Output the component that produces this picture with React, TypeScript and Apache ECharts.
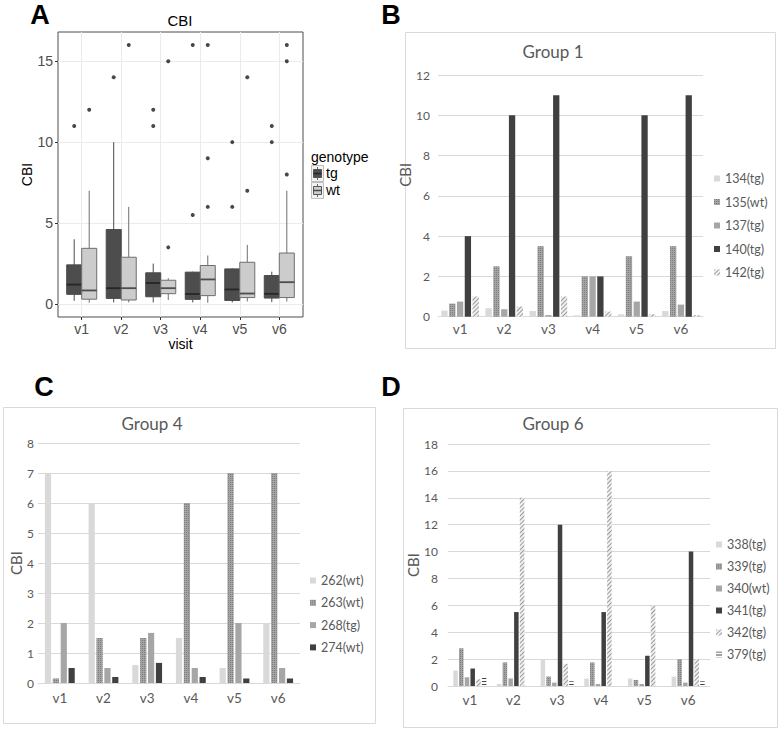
import React, { useEffect, useRef } from "react";
import * as echarts from "echarts";

// ---------- shared categories ----------
const visits = ["v1", "v2", "v3", "v4", "v5", "v6"];

// ---------- Panel A: boxplot statistics (per visit) ----------
const tgLow = [0.2, 0.1, 0.1, 0.1, 0.1, 0.12];
const tgQ1 = [0.6, 0.35, 0.45, 0.29, 0.22, 0.37];
const tgMedian = [1.2, 0.98, 1.3, 0.62, 0.9, 0.63];
const tgQ3 = [2.42, 4.6, 1.93, 1.97, 2.17, 1.76];
const tgHigh = [4.0, 10.0, 2.5, 2.0, 2.2, 2.0];

const wtLow = [0.08, 0.1, 0.25, 0.08, 0.16, 0.16];
const wtQ1 = [0.3, 0.25, 0.64, 0.52, 0.4, 0.4];
const wtMedian = [0.84, 0.98, 0.98, 1.52, 0.65, 1.35];
const wtQ3 = [3.44, 2.89, 1.47, 2.38, 2.58, 3.15];
const wtHigh = [7.0, 6.0, 1.6, 3.0, 3.65, 7.0];

// [visit number (1-based), value]
const tgOutliers = [[1, 11], [2, 14], [3, 11], [3, 12], [4, 5.5], [4, 16], [5, 6], [5, 10], [6, 10], [6, 11]];
const wtOutliers = [[1, 12], [2, 16], [3, 3.5], [3, 15], [4, 6], [4, 9], [4, 16], [5, 7], [5, 14], [6, 8], [6, 15], [6, 16]];

const boxTicks = [0, 5, 10, 15];
const visitTicks = [1, 2, 3, 4, 5, 6];

// ---------- Panel B: Group 1 ----------
const group1Names = ["134(tg)", "135(wt)", "137(tg)", "140(tg)", "142(tg)"];
const g1_134 = [0.3, 0.42, 0.28, 0.07, 0.12, 0.28];
const g1_135 = [0.65, 2.5, 3.5, 2.0, 3.0, 3.5];
const g1_137 = [0.75, 0.37, 0.08, 2.0, 0.75, 0.6];
const g1_140 = [4, 10, 11, 2, 10, 11];
const g1_142 = [1.0, 0.5, 1.0, 0.25, 0.12, 0.08];

// ---------- Panel C: Group 4 ----------
const group4Names = ["262(wt)", "263(wt)", "268(tg)", "274(wt)"];
const g4_262 = [7, 6, 0.6, 1.5, 0.5, 2];
const g4_263 = [0.15, 1.5, 1.5, 6, 7, 7];
const g4_268 = [2, 0.5, 1.67, 0.5, 2, 0.5];
const g4_274 = [0.5, 0.2, 0.67, 0.2, 0.15, 0.15];

// ---------- Panel D: Group 6 ----------
const group6Names = ["338(tg)", "339(tg)", "340(wt)", "341(tg)", "342(tg)", "379(tg)"];
const g6_338 = [1.15, 0.15, 2.0, 0.55, 0.55, 0.7];
const g6_339 = [2.8, 1.75, 0.7, 1.75, 0.45, 2.0];
const g6_340 = [0.65, 0.55, 0.25, 0.15, 0.15, 0.25];
const g6_341 = [1.3, 5.5, 12, 5.5, 2.25, 10];
const g6_342 = [0.5, 14, 1.65, 16, 6, 2.0];
const g6_379 = [0.65, 0, 0.35, 0, 0, 0.35];

// ---------- styles ----------
const GG = '"Liberation Sans", Arial, sans-serif';
const XL = 'Lato, "Open Sans", sans-serif';
const XL_TEXT = "#595959";
const XL_GRID = "#d9d9d9";

const DODGE = 0.19; // half box width in x units (ggplot dodge)

const STYLE_LIGHT = { color: "#d9d9d9" };
const STYLE_DOTS = {
  color: "#a3a3a3",
  decal: { symbol: "rect", symbolSize: 1, color: "rgba(80,80,80,0.45)", dashArrayX: [1, 1], dashArrayY: [1, 1], rotation: 0 },
};
const STYLE_MID = { color: "#a6a6a6" };
const STYLE_DARK = { color: "#404040" };
const STYLE_DIAG = {
  color: "#f0f0f0",
  decal: { symbol: "rect", symbolSize: 1, color: "#9a9a9a", dashArrayX: [1, 0], dashArrayY: [1, 2], rotation: -Math.PI / 4 },
};
const STYLE_HLINES = {
  color: "#ffffff",
  decal: { symbol: "rect", symbolSize: 1, color: "#444444", dashArrayX: [1, 0], dashArrayY: [1, 2], rotation: 0 },
};

function bar(name: string, data: number[], idx: number, itemStyle: any, barWidth: number, barGap: string) {
  return {
    type: "bar",
    name,
    data,
    xAxisIndex: idx,
    yAxisIndex: idx,
    barWidth,
    barGap,
    itemStyle,
    emphasis: { disabled: true },
  };
}

function boxRenderer(offset: number, fill: string, stroke: string, medColor: string) {
  return (params: any, api: any) => {
    const x = api.value(0) + offset;
    const pLo = api.coord([x, api.value(1)]);
    const pQ1 = api.coord([x, api.value(2)]);
    const pMed = api.coord([x, api.value(3)]);
    const pQ3 = api.coord([x, api.value(4)]);
    const pHi = api.coord([x, api.value(5)]);
    const left = api.coord([x - DODGE, 0])[0];
    const right = api.coord([x + DODGE, 0])[0];
    return {
      type: "group",
      children: [
        { type: "line", shape: { x1: pLo[0], y1: pLo[1], x2: pQ1[0], y2: pQ1[1] }, style: { stroke, lineWidth: 1 } },
        { type: "line", shape: { x1: pQ3[0], y1: pQ3[1], x2: pHi[0], y2: pHi[1] }, style: { stroke, lineWidth: 1 } },
        {
          type: "rect",
          shape: { x: left, y: pQ3[1], width: right - left, height: pQ1[1] - pQ3[1] },
          style: { fill, stroke, lineWidth: 1 },
        },
        { type: "line", shape: { x1: left, y1: pMed[1], x2: right, y2: pMed[1] }, style: { stroke: medColor, lineWidth: 1.8 } },
      ],
    };
  };
}

function barXAxis(idx: number, margin: number) {
  return {
    type: "category",
    gridIndex: idx,
    data: visits,
    axisLine: { show: true, lineStyle: { color: XL_GRID } },
    axisTick: { show: false },
    axisLabel: { fontSize: 13.5, color: XL_TEXT, fontFamily: XL, margin },
    splitLine: { show: false },
  };
}

function barYAxis(idx: number, max: number, interval: number, margin: number, nameGap: number, namePadding: number[]) {
  return {
    type: "value",
    gridIndex: idx,
    min: 0,
    max,
    interval,
    axisLine: { show: false },
    axisTick: { show: false },
    axisLabel: { fontSize: 12, color: XL_TEXT, fontFamily: XL, margin },
    splitLine: { show: true, lineStyle: { color: XL_GRID, width: 1 } },
    name: "CBI",
    nameLocation: "middle",
    nameGap,
    nameTextStyle: { fontSize: 15, color: XL_TEXT, fontFamily: XL, padding: namePadding },
  };
}

function barLegend(names: string[], left: number, top: number, itemGap: number) {
  return {
    data: names,
    orient: "vertical",
    left,
    top,
    itemWidth: 6,
    itemHeight: 6,
    itemGap,
    icon: "rect",
    selectedMode: false,
    padding: 0,
    textStyle: { fontSize: 12.5, color: XL_TEXT, fontFamily: XL },
  };
}

function letter(t: string, x: number, y: number) {
  return {
    type: "text",
    x,
    y,
    style: {
      text: t,
      fontSize: 27,
      fontWeight: "bold",
      fontFamily: GG,
      fill: "#000",
      align: "center",
      verticalAlign: "middle",
      textAlign: "center",
      textVerticalAlign: "middle",
    },
  };
}

function frame(x: number, y: number, w: number, h: number) {
  return {
    type: "rect",
    shape: { x: x + 0.5, y: y + 0.5, width: w, height: h },
    style: { fill: "none", stroke: "#d9d9d9", lineWidth: 1 },
    silent: true,
  };
}

function legendKey(x: number, y: number, fill: string, med: string) {
  return {
    type: "group",
    children: [
      { type: "rect", shape: { x: x + 0.5, y: y + 0.5, width: 12, height: 16 }, style: { fill: "#f2f2f2", stroke: "#bdbdbd", lineWidth: 1 } },
      { type: "line", shape: { x1: x + 6.5, y1: y + 2, x2: x + 6.5, y2: y + 15 }, style: { stroke: "#666", lineWidth: 1 } },
      { type: "rect", shape: { x: x + 2.5, y: y + 4.5, width: 8, height: 8 }, style: { fill, stroke: "#555", lineWidth: 1 } },
      { type: "line", shape: { x1: x + 2.5, y1: y + 8.5, x2: x + 10.5, y2: y + 8.5 }, style: { stroke: med, lineWidth: 1.5 } },
    ],
  };
}

function ggText(t: string, x: number, y: number, size: number) {
  return {
    type: "text",
    x,
    y,
    style: {
      text: t,
      fontSize: size,
      fontFamily: GG,
      fill: "#000",
      align: "left",
      verticalAlign: "middle",
      textAlign: "left",
      textVerticalAlign: "middle",
    },
  };
}

function buildOption() {
  const tgBoxData = visits.map((_, i) => [i + 1, tgLow[i], tgQ1[i], tgMedian[i], tgQ3[i], tgHigh[i]]);
  const wtBoxData = visits.map((_, i) => [i + 1, wtLow[i], wtQ1[i], wtMedian[i], wtQ3[i], wtHigh[i]]);

  const titleBase = (text: string, left: number, top: number, size: number, color: string, font: string) => ({
    text,
    left,
    top,
    textAlign: "center",
    padding: 0,
    textStyle: { fontSize: size, fontWeight: "normal", color, fontFamily: font },
  });

  return {
    animation: false,
    backgroundColor: "#ffffff",
    title: [
      titleBase("CBI", 180, 13, 15, "#000", GG),
      titleBase("Group 1", 553, 43, 17, XL_TEXT, XL),
      titleBase("Group 4", 152, 415, 17, XL_TEXT, XL),
      titleBase("Group 6", 553, 415, 17, XL_TEXT, XL),
    ],
    legend: [
      barLegend(group1Names, 714, 172, 10.5),
      barLegend(group4Names, 310, 574, 9.3),
      barLegend(group6Names, 716, 538, 9),
    ],
    grid: [
      { left: 58, top: 32, width: 245, height: 285, show: true, borderColor: "#4d4d4d", borderWidth: 1, backgroundColor: "#fff", outerBoundsMode: "none" },
      { left: 438, top: 75, width: 265, height: 241.7, outerBoundsMode: "none" },
      { left: 38, top: 443, width: 262, height: 240, outerBoundsMode: "none" },
      { left: 448, top: 444, width: 262, height: 242, outerBoundsMode: "none" },
    ],
    xAxis: [
      {
        type: "value",
        gridIndex: 0,
        min: 0.4,
        max: 6.6,
        axisLine: { show: false, onZero: false },
        axisTick: { show: true, customValues: visitTicks, length: 3, lineStyle: { color: "#333" } },
        axisLabel: {
          customValues: visitTicks,
          formatter: (v: number) => visits[Math.round(v) - 1] ?? "",
          fontSize: 14,
          color: "#4d4d4d",
          fontFamily: GG,
          margin: 5,
        },
        splitLine: { show: true, lineStyle: { color: "#ebebeb", width: 1 } },
        name: "visit",
        nameLocation: "middle",
        nameGap: 18,
        nameTextStyle: { fontSize: 14, color: "#000", fontFamily: GG },
      },
      barXAxis(1, 5),
      barXAxis(2, 8),
      barXAxis(3, 7),
    ],
    yAxis: [
      {
        type: "value",
        gridIndex: 0,
        min: -0.8,
        max: 16.8,
        axisLine: { show: false, onZero: false },
        axisTick: { show: true, customValues: boxTicks, length: 3, lineStyle: { color: "#333" } },
        axisLabel: { customValues: boxTicks, fontSize: 14, color: "#4d4d4d", fontFamily: GG, margin: 5 },
        splitLine: { show: true, lineStyle: { color: "#ebebeb", width: 1 } },
        name: "CBI",
        nameLocation: "middle",
        nameGap: 18,
        nameTextStyle: { fontSize: 14, color: "#000", fontFamily: GG },
      },
      barYAxis(1, 12, 2, 8, 16, [0, 0, 0, 42]),
      barYAxis(2, 8, 1, 4, 12, [0, 0, 0, 0]),
      barYAxis(3, 18, 2, 10, 22, [0, 0, 0, 0]),
    ],
    series: [
      {
        type: "custom",
        name: "tg",
        xAxisIndex: 0,
        yAxisIndex: 0,
        data: tgBoxData,
        encode: { x: 0, y: [1, 2, 3, 4, 5] },
        renderItem: boxRenderer(-DODGE, "#4d4d4d", "#4a4a4a", "#262626"),
        silent: true,
      },
      {
        type: "custom",
        name: "wt",
        xAxisIndex: 0,
        yAxisIndex: 0,
        data: wtBoxData,
        encode: { x: 0, y: [1, 2, 3, 4, 5] },
        renderItem: boxRenderer(DODGE, "#cccccc", "#6e6e6e", "#4d4d4d"),
        silent: true,
      },
      {
        type: "scatter",
        name: "tg outliers",
        xAxisIndex: 0,
        yAxisIndex: 0,
        data: tgOutliers.map(([v, y]) => [v - DODGE, y]),
        symbolSize: 4,
        itemStyle: { color: "#1a1a1a" },
        silent: true,
      },
      {
        type: "scatter",
        name: "wt outliers",
        xAxisIndex: 0,
        yAxisIndex: 0,
        data: wtOutliers.map(([v, y]) => [v + DODGE, y]),
        symbolSize: 4,
        itemStyle: { color: "#1a1a1a" },
        silent: true,
      },
      // Group 1
      bar(group1Names[0], g1_134, 1, STYLE_LIGHT, 6.3, "24%"),
      bar(group1Names[1], g1_135, 1, STYLE_DOTS, 6.3, "24%"),
      bar(group1Names[2], g1_137, 1, STYLE_MID, 6.3, "24%"),
      bar(group1Names[3], g1_140, 1, STYLE_DARK, 6.3, "24%"),
      bar(group1Names[4], g1_142, 1, STYLE_DIAG, 6.3, "24%"),
      // Group 4
      bar(group4Names[0], g4_262, 2, STYLE_LIGHT, 6.2, "27%"),
      bar(group4Names[1], g4_263, 2, STYLE_DOTS, 6.2, "27%"),
      bar(group4Names[2], g4_268, 2, STYLE_MID, 6.2, "27%"),
      bar(group4Names[3], g4_274, 2, STYLE_DARK, 6.2, "27%"),
      // Group 6
      bar(group6Names[0], g6_338, 3, STYLE_LIGHT, 4.5, "27%"),
      bar(group6Names[1], g6_339, 3, STYLE_DOTS, 4.5, "27%"),
      bar(group6Names[2], g6_340, 3, STYLE_MID, 4.5, "27%"),
      bar(group6Names[3], g6_341, 3, STYLE_DARK, 4.5, "27%"),
      bar(group6Names[4], g6_342, 3, STYLE_DIAG, 4.5, "27%"),
      bar(group6Names[5], g6_379, 3, STYLE_HLINES, 4.5, "27%"),
    ],
    graphic: [
      frame(405, 32, 370, 316),
      frame(3, 407, 372, 316),
      frame(403, 408, 374, 319),
      letter("A", 40, 15),
      letter("B", 391, 15),
      letter("C", 44, 387),
      letter("D", 391, 387),
      ggText("genotype", 311, 157, 14),
      legendKey(311, 165, "#4d4d4d", "#262626"),
      legendKey(311, 182, "#cccccc", "#4d4d4d"),
      ggText("tg", 326, 173, 14),
      ggText("wt", 326, 190, 14),
    ],
  };
}

export default function App() {
  const ref = useRef<HTMLDivElement>(null);
  useEffect(() => {
    if (!ref.current) return;
    const chart = echarts.init(ref.current, null, { renderer: "svg" });
    chart.setOption(buildOption() as any);
    return () => chart.dispose();
  }, []);
  return (
    <div
      ref={ref}
      style={{ position: "absolute", left: 0, top: 0, width: 779, height: 730, background: "#fff" }}
    />
  );
}
